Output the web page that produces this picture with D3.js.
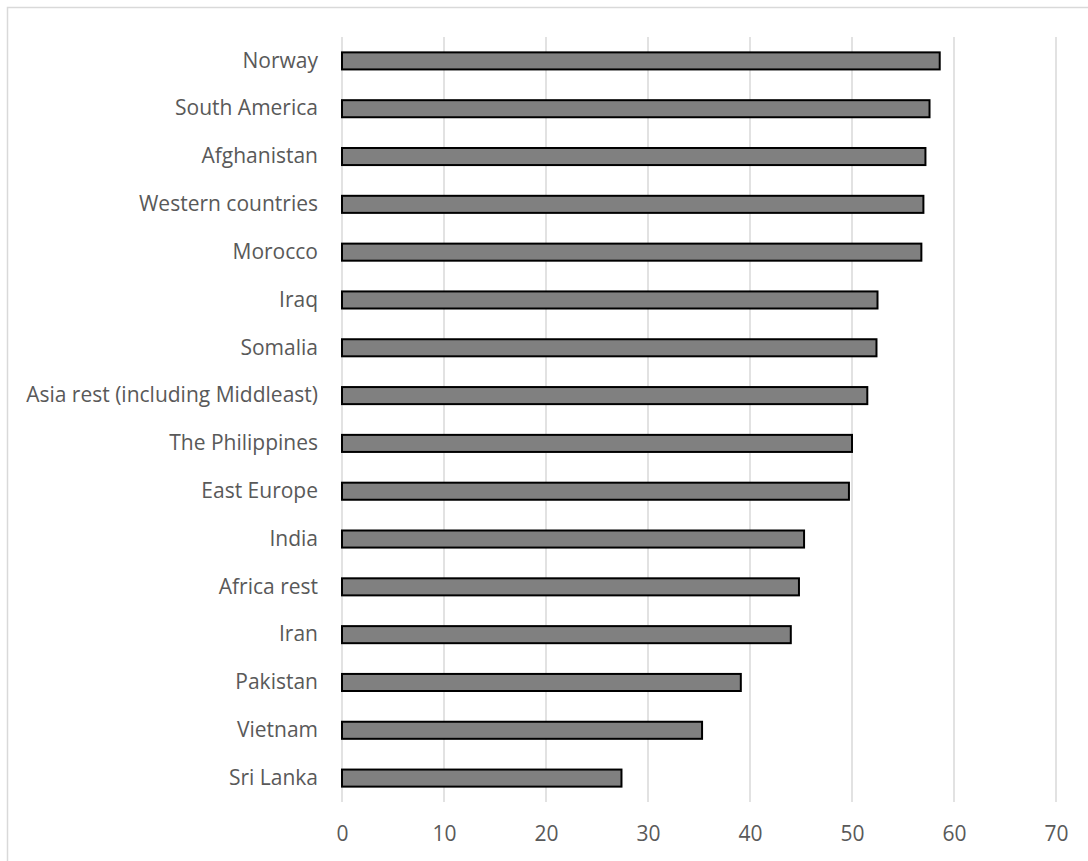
<!DOCTYPE html>
<html>
<head>
<meta charset="utf-8">
<script src="https://cdn.jsdelivr.net/npm/d3@7"></script>
<style>
html,body{margin:0;padding:0;background:#fff;}
svg{display:block;}
</style>
</head>
<body>
<svg id="chart" width="1088" height="861"></svg>
<script>
const categories = ["Norway","South America","Afghanistan","Western countries","Morocco","Iraq","Somalia","Asia rest (including Middleast)","The Philippines","East Europe","India","Africa rest","Iran","Pakistan","Vietnam","Sri Lanka"];
const values = [58.6,57.6,57.2,57.0,56.8,52.5,52.4,51.5,50.0,49.7,45.3,44.8,44.0,39.1,35.3,27.4];
const xTicks = [0,10,20,30,40,50,60,70];

const svg = d3.select("#chart");
const font = "'Open Sans', sans-serif";
const textColor = "#595959";

// chart area border
svg.append("rect").attr("x",7.5).attr("y",7.5).attr("width",1100).attr("height",900)
  .attr("fill","none").attr("stroke","#d9d9d9").attr("stroke-width",1.5);

const m = {left:342, right:1056, top:37, bottom:802};
const x = d3.scaleLinear().domain([0,70]).range([m.left,m.right]);
const y = d3.scaleBand().domain(categories).range([m.top,m.bottom]).paddingInner(0.643).paddingOuter(0.3215);

// gridlines
svg.append("g").selectAll("line").data(xTicks).join("line")
  .attr("x1",d=>x(d)).attr("x2",d=>x(d)).attr("y1",m.top).attr("y2",m.bottom)
  .attr("stroke","#d9d9d9").attr("stroke-width",1.5);

// bars
svg.append("g").selectAll("rect").data(categories).join("rect")
  .attr("x",x(0))
  .attr("y",d=>y(d))
  .attr("width",(d,i)=>x(values[i])-x(0))
  .attr("height",y.bandwidth())
  .attr("fill","#808080").attr("stroke","#000").attr("stroke-width",2);

// x axis
const xAxis = d3.axisBottom(x).tickValues(xTicks).tickSize(0).tickPadding(0);
const gx = svg.append("g").attr("transform",`translate(0,${m.bottom})`).call(xAxis);
gx.select(".domain").remove();
gx.selectAll("text").attr("font-family",font).attr("font-size","21px").attr("fill",textColor)
  .attr("dy",null).attr("y",39);

// y axis
const yAxis = d3.axisLeft(y).tickSize(0).tickPadding(24);
const gy = svg.append("g").attr("transform",`translate(${m.left},0)`).call(yAxis);
gy.select(".domain").remove();
gy.selectAll("text").attr("font-family",font).attr("font-size","21px").attr("fill",textColor);
</script>
</body>
</html>
